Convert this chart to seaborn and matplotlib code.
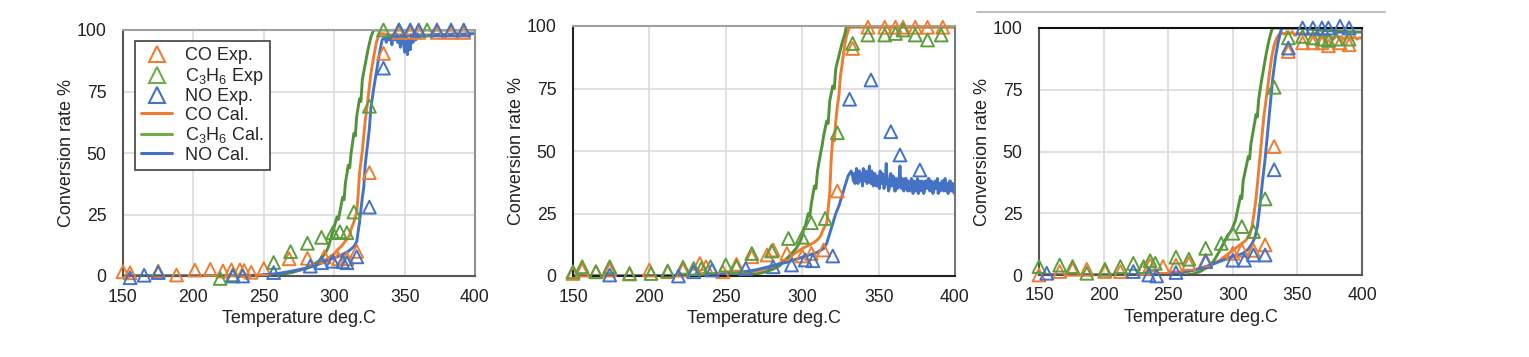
import numpy as np
import pandas as pd
import matplotlib
matplotlib.use("Agg")
import matplotlib.pyplot as plt
from matplotlib.lines import Line2D
import seaborn as sns

# ---------------- data ----------------
# Panel 1
p1_co_exp_t = [150, 155, 175, 188, 201, 212, 221, 227, 233, 236, 241, 250, 268, 281, 293, 303, 309, 316, 325, 335, 346, 354, 360, 373, 383, 392]
p1_co_exp_v = [1.7, 1.3, 2.0, 0.4, 2.4, 2.7, 2.0, 2.5, 2.5, 2.2, 1.5, 3.0, 7.0, 7.2, 7.8, 7.0, 7.0, 10.0, 42.0, 90.5, 99, 99, 99, 99, 99, 99]
p1_c3h6_exp_t = [219, 228, 257, 269, 281, 291, 299, 304, 309, 314, 325, 335, 346, 366]
p1_c3h6_exp_v = [-1.0, 0.5, 5.5, 9.9, 13.3, 15.7, 17.6, 18.0, 17.6, 26.0, 69.0, 100, 100, 100]
p1_no_exp_t = [155, 165, 175, 228, 235, 257, 283, 291, 299, 306, 309, 316, 325, 335, 346, 354, 360, 373, 383, 392]
p1_no_exp_v = [-0.7, 0.3, 1.4, 0.0, 0.0, 1.4, 4.0, 5.4, 6.0, 5.8, 5.4, 7.8, 28.0, 84.5, 100, 100, 100, 100, 100, 100]

p1_co_cal_t = [150, 200, 240, 250, 260, 270, 280, 285, 290, 295, 300, 303, 305, 307, 309, 311, 312, 314, 316, 317, 318, 320, 322, 324, 326, 328, 330, 332, 334, 340, 360, 380, 396]
p1_co_cal_v = [0, 0, 0, 0.3, 0.8, 1.6, 3.0, 4.0, 5.5, 7.0, 9.0, 11.0, 12.0, 13.5, 15.0, 16.5, 19.0, 22.0, 26.0, 33.0, 42.0, 51.0, 63.0, 72.0, 82.0, 89.0, 95.0, 98.5, 98.5, 98, 98, 98, 98]
p1_c3h6_cal_t = [150, 200, 240, 250, 260, 270, 280, 285, 290, 294, 296, 298, 300, 302, 303, 304, 306, 307, 308, 310, 311, 312, 314, 315, 316, 318, 319, 320, 322, 324, 326, 328, 400]
p1_c3h6_cal_v = [0, 0, 0, 0.1, 0.5, 1.4, 3.2, 4.5, 6.5, 9.5, 12.0, 16.0, 20.0, 24.0, 23.0, 26.0, 32.0, 31.0, 38.0, 45.0, 44.0, 50.0, 58.0, 57.0, 65.0, 72.0, 71.0, 80.0, 86.0, 92.0, 97.0, 100, 100]
p1_no_cal_t = [150, 200, 240, 250, 260, 270, 280, 290, 295, 300, 305, 310, 314, 316, 318, 320, 321, 322, 324, 325, 326, 328, 330, 332, 334, 336,
               337, 338, 339, 340, 341, 342, 343, 344, 345, 346, 347, 348, 349, 350, 351, 352, 353, 354, 355, 356, 357, 358, 359, 360,
               362, 365, 370, 375, 380, 385, 390, 395, 400]
p1_no_cal_v = [0, 0, 0.2, 0.5, 1.0, 2.0, 3.2, 5.0, 6.3, 7.3, 8.5, 10.0, 12.0, 14.0, 22.0, 32.0, 36.0, 45.0, 55.0, 60.0, 68.0, 76.0, 83.0, 90.0, 96.0, 97.0,
               95.0, 98.0, 96.0, 97.5, 94.0, 98.0, 96.0, 98.5, 95.0, 97.0, 93.0, 98.0, 96.0, 91.0, 97.0, 90.0, 96.0, 92.0, 98.0, 95.0, 98.0, 96.0, 98.5, 97.0,
               98.0, 97.5, 98.0, 98.3, 98.0, 98.5, 98.3, 98.5, 98.5]

# Panel 2
p2_co_exp_t = [150, 156, 165, 174, 187, 200, 212, 222, 233, 237, 248, 257, 267, 277, 281, 290, 300, 306, 314, 323, 333, 343, 354, 361, 366, 374, 382, 392]
p2_co_exp_v = [1.0, 2.4, 1.7, 2.4, 0.8, 2.4, 1.7, 2.4, 5.0, 3.7, 1.7, 4.7, 7.7, 8.4, 10.4, 9.0, 8.0, 9.0, 10.4, 34.0, 91.0, 99.5, 99.5, 99.5, 99.5, 99.5, 99.5, 99.5]
p2_c3h6_exp_t = [150, 156, 165, 174, 187, 201, 212, 222, 229, 234, 240, 250, 257, 267, 280, 291, 300, 306, 315, 323, 333, 343, 354, 361, 366, 374, 382, 391]
p2_c3h6_exp_v = [1.7, 3.7, 1.7, 3.7, 1.0, 1.0, 2.0, 3.5, 3.0, 3.0, 3.7, 4.4, 3.7, 9.0, 10.0, 15.0, 15.5, 21.3, 23.0, 57.3, 93.0, 96.4, 96.4, 97.0, 98.4, 96.4, 94.4, 96.4]
p2_no_exp_t = [174, 219, 229, 241, 263, 281, 293, 302, 307, 320, 331, 345, 358, 364, 377]
p2_no_exp_v = [0.4, 0.0, 1.7, 2.4, 3.0, 3.7, 4.4, 6.4, 6.1, 8.0, 70.7, 78.4, 57.7, 48.4, 42.4]

p2_co_cal_t = [150, 200, 250, 260, 270, 280, 285, 290, 295, 300, 305, 308, 310, 312, 313, 314, 316, 317, 318, 319, 320, 321, 322, 323, 324, 325, 326, 327, 328, 329, 330, 331, 400]
p2_co_cal_v = [0, 0, 0.3, 0.8, 2.0, 3.5, 5.0, 7.0, 9.0, 11.0, 12.5, 13.5, 14.5, 16.0, 17.5, 19.0, 21.0, 27.0, 33.0, 47.0, 55.0, 54.0, 62.0, 68.0, 72.0, 80.0, 84.0, 89.0, 93.0, 96.0, 98.0, 99.5, 99.5]
p2_c3h6_cal_t = [150, 200, 250, 260, 270, 275, 280, 285, 290, 293, 296, 298, 300, 301, 302, 304, 305, 306, 308, 309, 310, 312, 313, 314, 316, 317, 318, 320, 321, 322, 324, 326, 328, 329, 400]
p2_c3h6_cal_v = [0, 0, 0, 0.2, 0.8, 1.5, 2.5, 4.0, 7.0, 9.0, 11.0, 13.0, 16.0, 19.0, 20.0, 25.0, 24.0, 29.0, 36.0, 35.0, 42.0, 49.0, 52.0, 56.0, 62.0, 61.0, 70.0, 76.0, 75.0, 83.0, 88.0, 93.0, 97.0, 100, 100]
p2_no_cal_t = [150, 200, 240, 250, 260, 270, 280, 290, 300, 305, 310, 314, 316, 318, 320, 322, 324, 326, 328, 330, 332, 333,
               333.5, 334, 334.5, 335, 335.5, 336, 336.5, 337, 337.5, 338, 338.5, 339, 339.5, 340, 340.5, 341, 341.5, 342, 342.5, 343, 343.5,
               344, 344.5, 345, 345.5, 346, 346.5, 347, 347.5, 348, 348.5, 349, 349.5, 350, 350.5, 351, 351.5, 352, 352.5, 353, 353.5,
               354, 354.5, 355, 355.5, 356, 356.5, 357, 357.5, 358, 358.5, 359, 359.5, 360, 360.5, 361, 361.5, 362, 362.5, 363, 363.5,
               364, 364.5, 365, 365.5, 366, 366.5, 367, 367.5, 368, 368.5, 369, 369.5, 370, 370.5, 371, 371.5, 372, 372.5, 373, 373.5,
               374, 374.5, 375, 375.5, 376, 376.5, 377, 377.5, 378, 378.5, 379, 379.5, 380, 380.5, 381, 381.5, 382, 382.5, 383, 383.5,
               384, 384.5, 385, 385.5, 386, 386.5, 387, 387.5, 388, 388.5, 389, 389.5, 390, 390.5, 391, 391.5, 392, 392.5, 393, 393.5,
               394, 394.5, 395, 395.5, 396, 396.5, 397, 397.5, 398, 398.5, 399, 399.5, 400]
p2_no_cal_v = [0, 0, 0.5, 1.0, 1.5, 2.5, 4.0, 5.5, 7.5, 8.5, 9.5, 11.0, 13.0, 17.0, 21.0, 25.0, 28.0, 32.0, 36.0, 40.0, 42.0, 40.0,
               38, 41, 37, 39, 43, 42, 37, 38, 42, 41, 38, 40, 36, 43, 39, 38, 42, 40, 37, 39, 42,
               44, 38, 37, 42, 41, 36, 38, 41, 40, 36, 36, 40, 39, 35, 42, 38, 37, 41, 39, 35,
               36, 40, 45, 37, 38, 34, 35, 40, 41, 36, 37, 40, 39, 34, 34, 39, 38, 35, 36, 40,
               44, 36, 35, 39, 38, 34, 36, 39, 39, 35, 34, 38, 37, 34, 35, 39, 38, 33, 34, 38,
               37, 34, 36, 39, 33, 37, 38, 34, 35, 38, 37, 33, 34, 38, 38, 35, 36, 39, 39, 34,
               35, 38, 37, 33, 34, 37, 38, 35, 36, 39, 33, 37, 37, 34, 35, 38, 38, 34, 36, 39,
               34, 37, 37, 33, 35, 38, 38, 34, 34, 37, 36, 33, 37]

# Panel 3
p3_co_exp_t = [150, 166, 176, 187, 201, 213, 231, 236, 246, 256, 266, 279, 300, 307, 316, 325, 332, 343, 354, 362, 369, 374, 383, 390]
p3_co_exp_v = [0.0, 1.4, 2.3, 2.3, 1.4, 1.4, 2.7, 4.0, 3.4, 4.0, 4.7, 6.0, 8.8, 10.0, 10.0, 12.2, 52.0, 90.5, 94.0, 94.0, 94.0, 92.8, 94.0, 93.2]
p3_c3h6_exp_t = [150, 166, 176, 187, 201, 213, 223, 231, 236, 240, 256, 266, 279, 291, 300, 307, 316, 325, 332, 343, 354, 362, 369, 374, 380, 390]
p3_c3h6_exp_v = [3.4, 4.0, 3.4, 0.7, 2.3, 3.4, 4.7, 3.4, 5.8, 4.7, 7.2, 6.4, 10.8, 12.8, 16.9, 19.6, 17.6, 30.8, 76.0, 96.0, 96.6, 96.0, 95.5, 95.0, 95.5, 95.5]
p3_no_exp_t = [156, 223, 235, 241, 256, 279, 300, 309, 316, 325, 332, 343, 354, 362, 369, 374, 383, 390]
p3_no_exp_v = [0.7, 1.4, 0.0, -0.4, 1.0, 5.4, 6.0, 6.0, 8.1, 8.1, 42.6, 91.9, 100, 100, 100, 100, 100.7, 100]

p3_co_cal_t = [150, 200, 240, 250, 260, 270, 280, 285, 290, 295, 300, 305, 310, 313, 315, 317, 318, 320, 322, 324, 326, 328, 330, 332, 334, 336, 338, 340,
               342, 344, 346, 348, 350, 352, 354, 356, 358, 360, 362, 364, 366, 368, 370, 372, 374, 376, 378, 380, 382, 384, 386, 388, 390, 392, 394, 396, 398, 400]
p3_co_cal_v = [0, 0, 0, 0.2, 0.8, 2.0, 3.5, 4.5, 6.0, 8.0, 10.0, 12.0, 14.0, 16.0, 20.0, 27.0, 31.0, 42.0, 53.0, 64.0, 72.0, 80.0, 88.0, 93.0, 96.0, 97.5, 98.0, 97.5,
               98.5, 97.5, 98.5, 97.0, 98.0, 97.5, 98.5, 97.0, 98.0, 97.5, 96.5, 98.0, 97.0, 96.5, 97.5, 96.0, 97.0, 96.5, 95.5, 97.0, 96.0, 96.5, 95.5, 96.5, 96.0, 95.5, 96.5, 95.5, 96.0, 96.0]
p3_c3h6_cal_t = [150, 200, 240, 250, 260, 270, 275, 280, 285, 289, 293, 296, 299, 302, 304, 306, 307, 308, 310, 312, 313, 314, 316, 318, 319, 320, 322, 324, 326, 328, 330, 331, 340, 350, 360, 370, 380, 390, 400]
p3_c3h6_cal_v = [0, 0, 0, -0.3, -0.3, 0.5, 1.5, 3.0, 5.5, 9.0, 13.0, 16.0, 18.0, 22.0, 27.0, 32.0, 31.0, 38.0, 43.0, 48.0, 47.0, 53.0, 59.0, 65.0, 64.0, 71.0, 78.0, 84.0, 90.0, 95.0, 99.0, 100, 100, 100, 99.5, 99.0, 98.8, 98.5, 98.3]
p3_no_cal_t = [150, 200, 240, 250, 260, 270, 280, 285, 290, 295, 300, 305, 308, 312, 315, 317, 319, 321, 323, 325, 327, 329, 331, 333, 335, 337, 338, 400]
p3_no_cal_v = [0, 0, 0.2, 0.5, 1.0, 2.0, 3.5, 4.5, 5.5, 6.5, 7.5, 8.2, 8.8, 10.5, 12.8, 15.0, 19.5, 28.0, 38.0, 47.0, 58.0, 69.0, 80.0, 88.0, 94.0, 98.5, 100, 100]

x_ticks = [150, 200, 250, 300, 350, 400]
y_ticks = [0, 25, 50, 75, 100]
x_label = "Temperature deg.C"
y_label = "Conversion rate %"
legend_labels = ["CO Exp.", "C$_3$H$_6$ Exp", "NO Exp.", "CO Cal.", "C$_3$H$_6$ Cal.", "NO Cal."]

# ---------------- styling ----------------
sns.set_style("white")
plt.rcParams["font.family"] = ["Liberation Sans", "DejaVu Sans"]
plt.rcParams["mathtext.default"] = "regular"

C_CO = "#ED7D31"
C_HC_LINE = "#52923A"
C_HC_MK = "#5E9E3E"
C_NO = "#4472C4"

W, H = 1529, 357
fig = plt.figure(figsize=(W / 100, H / 100), dpi=100)
fig.patch.set_facecolor("white")

def px_axes(l, t, r, b):
    return fig.add_axes([l / W, 1 - b / H, (r - l) / W, (b - t) / H])

panels = [
    dict(box=(123, 30, 475, 276),
         exp=[(p1_co_exp_t, p1_co_exp_v, C_CO), (p1_c3h6_exp_t, p1_c3h6_exp_v, C_HC_MK), (p1_no_exp_t, p1_no_exp_v, C_NO)],
         cal=[(p1_co_cal_t, p1_co_cal_v, C_CO), (p1_c3h6_cal_t, p1_c3h6_cal_v, C_HC_LINE), (p1_no_cal_t, p1_no_cal_v, C_NO)],
         spines=dict(left="#555555", bottom="#555555", top="#a0a0a0", right="#909090")),
    dict(box=(573, 26, 955, 276),
         exp=[(p2_co_exp_t, p2_co_exp_v, C_CO), (p2_c3h6_exp_t, p2_c3h6_exp_v, C_HC_MK), (p2_no_exp_t, p2_no_exp_v, C_NO)],
         cal=[(p2_co_cal_t, p2_co_cal_v, C_CO), (p2_c3h6_cal_t, p2_c3h6_cal_v, C_HC_LINE), (p2_no_cal_t, p2_no_cal_v, C_NO)],
         spines=dict(left="#222222", bottom="#222222", top="#a0a0a0", right="#777777")),
    dict(box=(1039, 28, 1362, 275),
         exp=[(p3_co_exp_t, p3_co_exp_v, C_CO), (p3_c3h6_exp_t, p3_c3h6_exp_v, C_HC_MK), (p3_no_exp_t, p3_no_exp_v, C_NO)],
         cal=[(p3_co_cal_t, p3_co_cal_v, C_CO), (p3_c3h6_cal_t, p3_c3h6_cal_v, C_HC_LINE), (p3_no_cal_t, p3_no_cal_v, C_NO)],
         spines=dict(left="#555555", bottom="#555555", top="#111111", right="#666666")),
]

for i, p in enumerate(panels):
    ax = px_axes(*p["box"])
    ax.set_axisbelow(True)
    ax.grid(True, color="#d9d9d9", linewidth=1.1)
    for t, v, c in p["cal"]:
        sns.lineplot(x=t, y=v, ax=ax, color=c, linewidth=2.1, sort=False, estimator=None)
    for t, v, c in p["exp"]:
        sns.scatterplot(x=t, y=v, ax=ax, marker="^", s=85, color=c, facecolors="none",
                        edgecolors=c, linewidth=1.4, clip_on=False, zorder=5)
    ax.set_xlim(150, 400)
    ax.set_ylim(0, 100)
    ax.set_xticks(x_ticks)
    ax.set_yticks(y_ticks)
    ax.tick_params(axis="x", direction="in", length=4, width=1, pad=9, labelsize=12.7, colors="#222222")
    ax.tick_params(axis="y", direction="in", length=4, width=1, pad=12, labelsize=12.7, colors="#222222")
    ax.set_xlabel(x_label, fontsize=13, labelpad=3.5, color="#222222")
    ax.set_ylabel(y_label, fontsize=13, labelpad=1, color="#222222")
    for side, col in p["spines"].items():
        ax.spines[side].set_color(col)
        ax.spines[side].set_linewidth(1.5)
    if ax.get_legend() is not None:
        ax.get_legend().remove()
    if i == 0:
        handles = [
            Line2D([], [], marker="^", linestyle="none", markersize=12, markerfacecolor="none", markeredgecolor=C_CO, markeredgewidth=1.5),
            Line2D([], [], marker="^", linestyle="none", markersize=12, markerfacecolor="none", markeredgecolor="#6FAE47", markeredgewidth=1.5),
            Line2D([], [], marker="^", linestyle="none", markersize=12, markerfacecolor="none", markeredgecolor=C_NO, markeredgewidth=1.5),
            Line2D([], [], color=C_CO, linewidth=2.2),
            Line2D([], [], color="#6FAE47", linewidth=2.2),
            Line2D([], [], color=C_NO, linewidth=2.2),
        ]
        leg = ax.legend(handles, legend_labels, loc="upper left", bbox_to_anchor=(0.034, 0.955),
                        borderaxespad=0, fontsize=13, frameon=True, fancybox=False, shadow=False,
                        labelspacing=0.08, handlelength=1.7, handletextpad=0.7, borderpad=0.35)
        leg.get_frame().set_edgecolor("#404040")
        leg.get_frame().set_linewidth(1.2)
        leg.get_frame().set_alpha(1)

# thin gray rule above the third panel (present in the reference image)
fig.add_artist(Line2D([977 / W, 1385 / W], [1 - 12 / H, 1 - 12 / H], color="#c0c0c0", linewidth=1.5))

fig.savefig("out.png", dpi=100, facecolor="white")
